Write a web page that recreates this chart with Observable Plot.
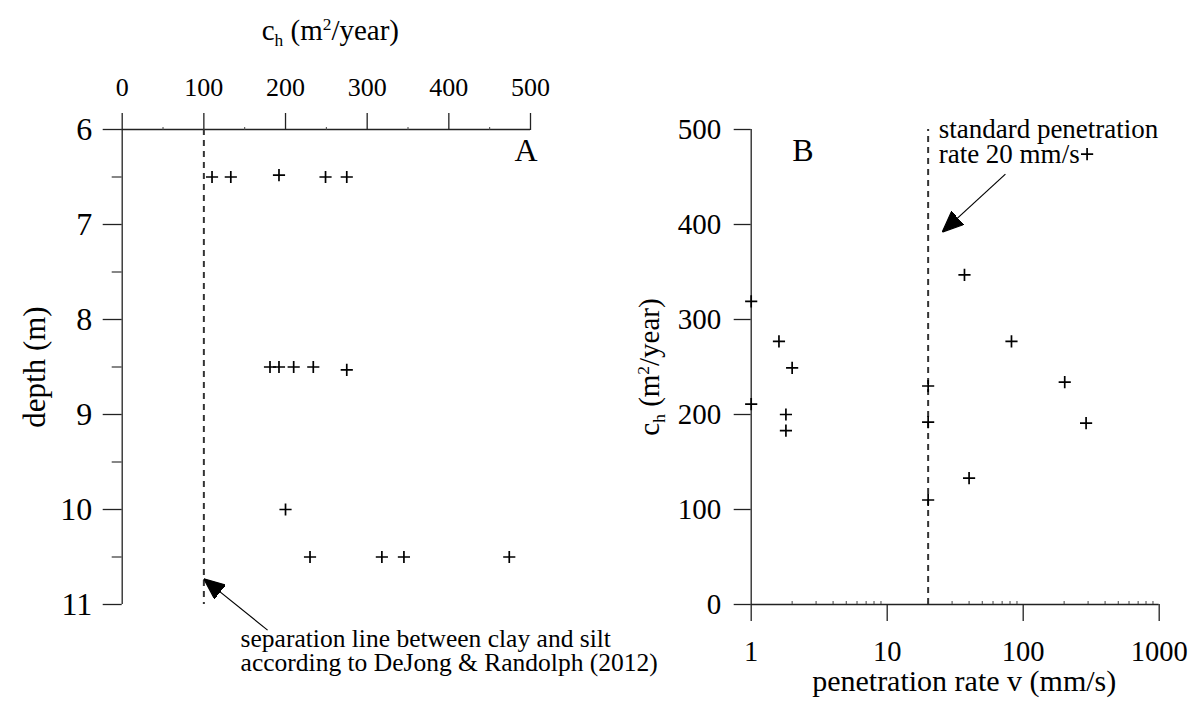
<!DOCTYPE html>
<html><head><meta charset="utf-8">
<script src="https://cdn.jsdelivr.net/npm/d3@7"></script>
<script src="https://cdn.jsdelivr.net/npm/@observablehq/plot@0.6"></script>
<style>
body{margin:0;background:#fff;}
#wrap{position:relative;width:1194px;height:701px;overflow:hidden;background:#fff;}
#left{position:absolute;left:0;top:0;width:600px;height:701px;z-index:2;}
#right{position:absolute;left:600px;top:0;width:594px;height:701px;z-index:1;}
svg{overflow:visible;}
svg text{font-family:'Liberation Serif','Times New Roman',serif;}
</style></head><body>
<div id="wrap"><div id="left"></div><div id="right"></div></div>
<script>
// ---- Panel A: depth vs c_h ----
const depthA = [6.5, 6.5, 6.48, 6.5, 6.5, 8.5, 8.5, 8.5, 8.5, 8.53, 10, 10.5, 10.5, 10.5, 10.5];
const chA    = [110, 133, 192, 249, 275, 181, 192, 210, 234, 275, 200, 230, 318, 345, 474];
const chTicks = [0, 100, 200, 300, 400, 500];
const chMinor = [50, 150, 250, 350, 450];
const depthTicks = [6, 7, 8, 9, 10, 11];
const depthMinor = [6.5, 7.5, 8.5, 9.5, 10.5];
const clayLimit = 100;

// ---- Panel B: c_h vs penetration rate ----
const rateB = [1, 1, 1.6, 2.0, 1.8, 1.8, 20, 20, 20, 37, 40, 82, 202, 290, 295];
const chB   = [319, 211, 277, 249, 200, 183, 230, 192, 110, 347, 133, 277, 234, 191, 474];
const rateTicks = [1, 10, 100, 1000];
const rateMinor = [2,3,4,5,6,7,8,9,20,30,40,50,60,70,80,90,200,300,400,500,600,700,800,900];
const chBTicks = [0, 100, 200, 300, 400, 500];
const standardRate = 20;

const FONT = "'Liberation Serif','Times New Roman',serif";
const TICKFS = 29;

function filledArrow(color) {
  const ns = "http://www.w3.org/2000/svg";
  const m = document.createElementNS(ns, "marker");
  m.setAttribute("viewBox", "-21 -9 21 18");
  m.setAttribute("markerWidth", "21");
  m.setAttribute("markerHeight", "18");
  m.setAttribute("markerUnits", "userSpaceOnUse");
  m.setAttribute("orient", "auto");
  m.setAttribute("refX", "0");
  m.setAttribute("refY", "0");
  const p = document.createElementNS(ns, "path");
  p.setAttribute("d", "M-21,-9L0,0L-21,9Z");
  p.setAttribute("fill", "black");
  m.appendChild(p);
  return m;
}

const ptsA = depthA.map((d, i) => ({depth: d, ch: chA[i]}));
const ptsB = rateB.map((v, i) => ({rate: v, ch: chB[i]}));

const left = Plot.plot({
  width: 600, height: 701,
  marginLeft: 121.7, marginRight: 70, marginTop: 129, marginBottom: 97,
  style: {fontFamily: FONT, fontSize: TICKFS + "px", color: "black", background: "transparent"},
  x: {domain: [0, 500], label: null},
  y: {domain: [6, 11], reverse: true, label: null},
  marks: [
    Plot.ruleY([6], {x1: 0, x2: 500, stroke: "#222", strokeWidth: 1.3}),
    Plot.ruleX([0], {y1: 6, y2: 11, stroke: "#222", strokeWidth: 1.3}),
    Plot.axisX({anchor: "top", ticks: chTicks, tickSize: 17, tickPadding: 17, fontSize: 26, fontFamily: FONT, tickFormat: d => String(d), stroke: "#222", strokeWidth: 1.3}),
    Plot.axisX({anchor: "top", ticks: chMinor, tickSize: 3, text: null, stroke: "#444"}),
    Plot.axisY({anchor: "left", ticks: depthTicks, tickSize: 19, tickPadding: 11, fontSize: 32, fontFamily: FONT, tickFormat: d => String(d), stroke: "#222", strokeWidth: 1.3}),
    Plot.axisY({anchor: "left", ticks: depthMinor, tickSize: 10, text: null, stroke: "#444", strokeWidth: 1.3}),
    Plot.ruleX([clayLimit], {y1: 6, y2: 11, stroke: "#333", strokeWidth: 2, strokeDasharray: "6,5"}),
    Plot.dot(ptsA, {x: "ch", y: "depth", symbol: "plus", r: 4, stroke: "black", strokeWidth: 1.7}),
    Plot.text(["A"], {frameAnchor: "top-right", dx: 7, dy: 31, lineAnchor: "bottom", textAnchor: "end", fontSize: 32, fontFamily: FONT}),
    Plot.text(["ch (m2/year)"], {frameAnchor: "top", dx: 4, dy: -99, lineAnchor: "middle", textAnchor: "middle", fontSize: 29, fontFamily: FONT}),
    Plot.text(["depth (m)"], {frameAnchor: "left", dx: -87, rotate: -90, lineAnchor: "middle", textAnchor: "middle", fontSize: 31, fontFamily: FONT}),
    Plot.link([{x1: 178, y1: 11.27, x2: clayLimit, y2: 10.73}], {x1: "x1", y1: "y1", x2: "x2", y2: "y2", stroke: "black", strokeWidth: 1.2, markerEnd: filledArrow}),
    Plot.text(["separation line between clay and silt"], {x: 145, y: 11.45, textAnchor: "start", lineAnchor: "bottom", fontSize: 25.5, fontFamily: FONT}),
    Plot.text(["according to DeJong & Randolph (2012)"], {x: 145, y: 11.703, textAnchor: "start", lineAnchor: "bottom", fontSize: 25.5, fontFamily: FONT})
  ]
});
document.getElementById("left").appendChild(left);

const right = Plot.plot({
  width: 594, height: 701,
  marginLeft: 150.7, marginRight: 35.3, marginTop: 129, marginBottom: 97,
  style: {fontFamily: FONT, fontSize: TICKFS + "px", color: "black", background: "transparent"},
  x: {type: "log", domain: [1, 1000], label: null},
  y: {domain: [0, 500], label: null},
  marks: [
    Plot.ruleX([1], {y1: 0, y2: 500, stroke: "#222", strokeWidth: 1.3}),
    Plot.ruleY([0], {x1: 1, x2: 1000, stroke: "#222", strokeWidth: 1.3}),
    Plot.axisY({anchor: "left", ticks: chBTicks, tickSize: 17, tickPadding: 13, fontSize: TICKFS, fontFamily: FONT, tickFormat: d => String(d), stroke: "#222", strokeWidth: 1.3}),
    Plot.axisX({anchor: "bottom", ticks: rateTicks, tickSize: 17, tickPadding: 19, fontSize: 28.5, fontFamily: FONT, tickFormat: d => String(d), stroke: "#222", strokeWidth: 1.3}),
    Plot.axisX({anchor: "bottom", ticks: rateMinor, tickSize: 3, dy: -3, text: null, stroke: "#444"}),
    Plot.ruleX([standardRate], {y1: 0, y2: 500, stroke: "#333", strokeWidth: 2, strokeDasharray: "6,5"}),
    Plot.dot(ptsB, {x: "rate", y: "ch", symbol: "plus", r: 4, stroke: "black", strokeWidth: 1.7}),
    Plot.text(["B"], {frameAnchor: "top-left", dx: 41, dy: 31, lineAnchor: "bottom", textAnchor: "start", fontSize: 32, fontFamily: FONT}),
    Plot.text(["standard penetration"], {x: 23.9, y: 491, textAnchor: "start", lineAnchor: "bottom", fontSize: 27, fontFamily: FONT}),
    Plot.text(["rate 20 mm/s"], {x: 23.9, y: 464.6, textAnchor: "start", lineAnchor: "bottom", fontSize: 27, fontFamily: FONT}),
    Plot.link([{x1: 74, y1: 453, x2: 25.4, y2: 392}], {x1: "x1", y1: "y1", x2: "x2", y2: "y2", stroke: "black", strokeWidth: 1.2, markerEnd: filledArrow}),
    Plot.text(["penetration rate v (mm/s)"], {frameAnchor: "bottom", dx: 9, dy: 86, lineAnchor: "bottom", textAnchor: "middle", fontSize: 30, fontFamily: FONT}),
    Plot.text(["ch (m2/year)"], {frameAnchor: "left", dx: -101, rotate: -90, lineAnchor: "middle", textAnchor: "middle", fontSize: 29, fontFamily: FONT})
  ]
});
document.getElementById("right").appendChild(right);

// Rich formatting for c_h (m²/year): subscript h and superscript 2
function richLabel(svg) {
  svg.querySelectorAll("text").forEach(t => {
    if (t.textContent === "ch (m2/year)") {
      const ns = "http://www.w3.org/2000/svg";
      t.textContent = "";
      const parts = [
        {s: "c"},
        {s: "h", dy: 6, fs: "60%"},
        {s: " (m", dy: -6},
        {s: "2", dy: -10, fs: "60%"},
        {s: "/year)", dy: 10}
      ];
      parts.forEach(p => {
        const ts = document.createElementNS(ns, "tspan");
        ts.textContent = p.s;
        if (p.dy) ts.setAttribute("dy", p.dy);
        if (p.fs) ts.setAttribute("font-size", p.fs);
        t.appendChild(ts);
      });
    }
  });
}
richLabel(left);
richLabel(right);
</script>
</body></html>
